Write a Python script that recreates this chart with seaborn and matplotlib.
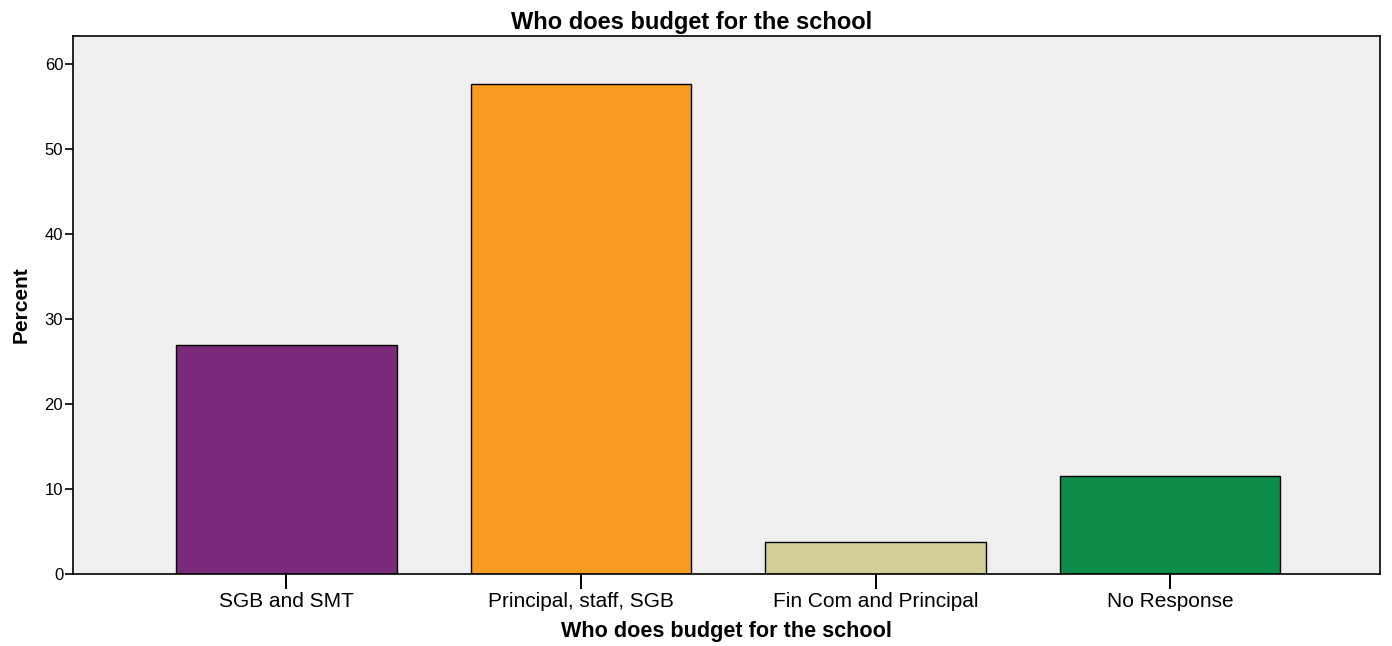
import matplotlib
matplotlib.use("Agg")
import matplotlib.pyplot as plt
import seaborn as sns
import pandas as pd

categories = ["SGB and SMT", "Principal, staff, SGB", "Fin Com and Principal", "No Response"]
percents = [26.9, 57.7, 3.8, 11.5]
bar_colors = ["#7B2A7B", "#F99B20", "#D3CE97", "#0E8C4A"]
y_ticks = [0, 10, 20, 30, 40, 50, 60]

sns.set_style("white")
plt.rcParams["font.family"] = ["Liberation Sans", "DejaVu Sans"]
plt.rcParams["text.color"] = "black"
plt.rcParams["axes.labelcolor"] = "black"

df = pd.DataFrame({"category": categories, "percent": percents})

fig = plt.figure(figsize=(13.92, 6.46), dpi=100)
ax = fig.add_axes([0.0524, 0.1115, 0.9390, 0.8328])
ax.set_facecolor("#EFEFEF")

sns.barplot(data=df, x="category", y="percent", hue="category",
            palette=bar_colors, legend=False, width=0.75,
            edgecolor="black", linewidth=1.0, saturation=1, ax=ax)

ax.set_xlim(-0.725, 3.713)
ax.set_ylim(0, 63.3)
ax.set_yticks(y_ticks)
ax.set_yticklabels([str(t) for t in y_ticks], fontsize=12)
ax.tick_params(axis="y", left=True, direction="out", length=6, width=1.2,
               colors="black", pad=1)
ax.tick_params(axis="x", bottom=True, direction="out", length=11, width=1.4,
               colors="black", labelsize=15, pad=2)

for s in ax.spines.values():
    s.set_visible(True)
    s.set_color("black")
    s.set_linewidth(1.2)

# title centred over the whole figure
ax.set_title("Who does budget for the school", fontsize=17, fontweight="bold",
             color="black", pad=5, x=0.4736)
ax.set_xlabel("Who does budget for the school", fontsize=15.6, fontweight="bold",
              color="black", labelpad=7)
ax.set_ylabel("Percent", fontsize=15, fontweight="bold", color="black", labelpad=10)

fig.savefig("out.png", dpi=100)
